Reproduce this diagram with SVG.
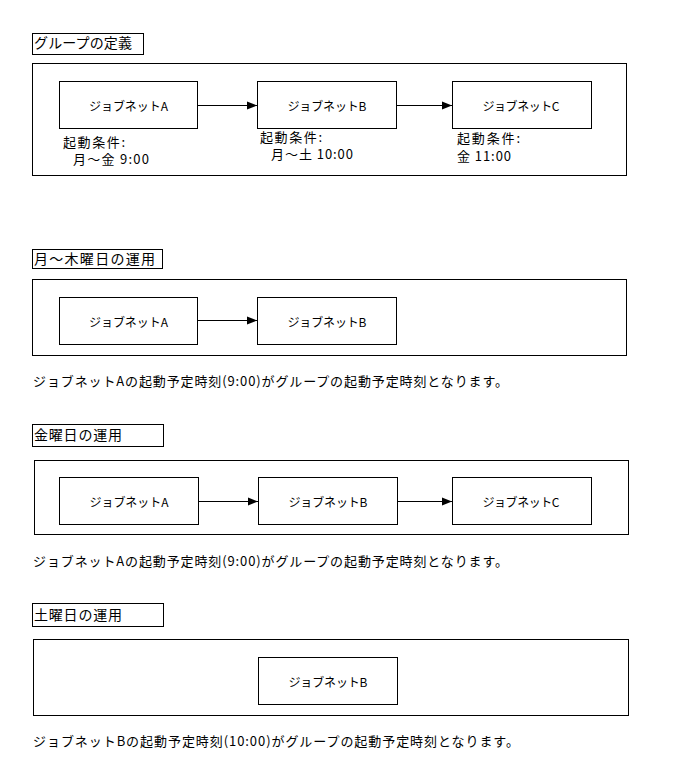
<svg xmlns="http://www.w3.org/2000/svg" width="675" height="781" viewBox="0 0 675 781">
<style>
rect{fill:#fff;stroke:#000;stroke-width:1}
text{font-family:"Noto Sans CJK JP","Noto Sans",sans-serif;fill:#000}
.t{font-size:14px}
.n{font-size:12px;text-anchor:middle;dominant-baseline:central}
.c{font-size:13px}
.s{font-size:13px}
.e{stroke:#000;stroke-width:1;fill:none;marker-end:url(#ah)}
</style>
<defs>
<marker id="ah" markerUnits="userSpaceOnUse" markerWidth="11" markerHeight="9" refX="10" refY="4.5" orient="auto">
<path d="M0,0.5 L10,4.5 L0,8.5 z" fill="#000"/>
</marker>
</defs>
<rect width="675" height="781" style="stroke:none"/>

<!-- Section 1 -->
<g id="title1"><rect x="32.5" y="33.5" width="111" height="21"/><text class="t" x="34" y="48" textLength="98" lengthAdjust="spacing">グループの定義</text></g>
<g id="group1"><rect x="32.5" y="63.5" width="594" height="112"/></g>
<g id="s1-nodeA"><rect x="59.5" y="81.5" width="138" height="47"/><text class="n" x="128.5" y="105.5" textLength="79" lengthAdjust="spacing">ジョブネットA</text>
<text class="c" x="63" y="147" textLength="62" lengthAdjust="spacing">起動条件:</text>
<text class="c" x="73" y="164" textLength="76" lengthAdjust="spacing">月～金 9:00</text></g>
<g id="s1-nodeB"><rect x="257.5" y="81.5" width="139" height="47"/><text class="n" x="327" y="105.5" textLength="79" lengthAdjust="spacing">ジョブネットB</text>
<text class="c" x="260" y="142" textLength="62" lengthAdjust="spacing">起動条件:</text>
<text class="c" x="271" y="159" textLength="82" lengthAdjust="spacing">月～土 10:00</text></g>
<g id="s1-nodeC"><rect x="452.5" y="81.5" width="139" height="47"/><text class="n" x="521" y="105.5" textLength="77" lengthAdjust="spacing">ジョブネットC</text>
<text class="c" x="457" y="143" textLength="63" lengthAdjust="spacing">起動条件:</text>
<text class="c" x="457" y="161" textLength="54" lengthAdjust="spacing">金 11:00</text></g>

<!-- Section 2 -->
<g id="title2"><rect x="32.5" y="249.5" width="130" height="19"/><text class="t" x="34" y="264" textLength="121" lengthAdjust="spacing">月～木曜日の運用</text></g>
<g id="group2"><rect x="32.5" y="279.5" width="594" height="76"/></g>
<g id="s2-nodeA"><rect x="59.5" y="297.5" width="138" height="47"/><text class="n" x="128.5" y="321" textLength="79" lengthAdjust="spacing">ジョブネットA</text></g>
<g id="s2-nodeB"><rect x="257.5" y="297.5" width="139" height="47"/><text class="n" x="327" y="321" textLength="79" lengthAdjust="spacing">ジョブネットB</text></g>
<text class="s" x="33" y="386" textLength="475" lengthAdjust="spacing">ジョブネットAの起動予定時刻(9:00)がグループの起動予定時刻となります。</text>

<!-- Section 3 -->
<g id="title3"><rect x="32.5" y="424.5" width="131" height="22"/><text class="t" x="34" y="440" textLength="88" lengthAdjust="spacing">金曜日の運用</text></g>
<g id="group3"><rect x="34.5" y="460.5" width="594" height="74"/></g>
<g id="s3-nodeA"><rect x="59.5" y="477.5" width="139" height="47"/><text class="n" x="129" y="501" textLength="79" lengthAdjust="spacing">ジョブネットA</text></g>
<g id="s3-nodeB"><rect x="258.5" y="477.5" width="139" height="47"/><text class="n" x="328" y="501" textLength="79" lengthAdjust="spacing">ジョブネットB</text></g>
<g id="s3-nodeC"><rect x="452.5" y="477.5" width="139" height="47"/><text class="n" x="521" y="501" textLength="77" lengthAdjust="spacing">ジョブネットC</text></g>
<text class="s" x="33" y="566" textLength="475" lengthAdjust="spacing">ジョブネットAの起動予定時刻(9:00)がグループの起動予定時刻となります。</text>

<!-- Section 4 -->
<g id="title4"><rect x="32.5" y="603.5" width="131" height="23"/><text class="t" x="34" y="620" textLength="88" lengthAdjust="spacing">土曜日の運用</text></g>
<g id="group4"><rect x="33.5" y="639.5" width="595" height="76"/></g>
<g id="s4-nodeB"><rect x="258.5" y="657.5" width="139" height="47"/><text class="n" x="328" y="681" textLength="79" lengthAdjust="spacing">ジョブネットB</text></g>
<text class="s" x="33" y="746" textLength="486" lengthAdjust="spacing">ジョブネットBの起動予定時刻(10:00)がグループの起動予定時刻となります。</text>

<g id="connectors">
<path class="e" d="M197.5,105.5 H257"/>
<path class="e" d="M396.5,105.5 H452"/>
<path class="e" d="M197.5,320.5 H257"/>
<path class="e" d="M198.5,501.5 H258"/>
<path class="e" d="M397.5,501.5 H452"/>
</g>
</svg>
